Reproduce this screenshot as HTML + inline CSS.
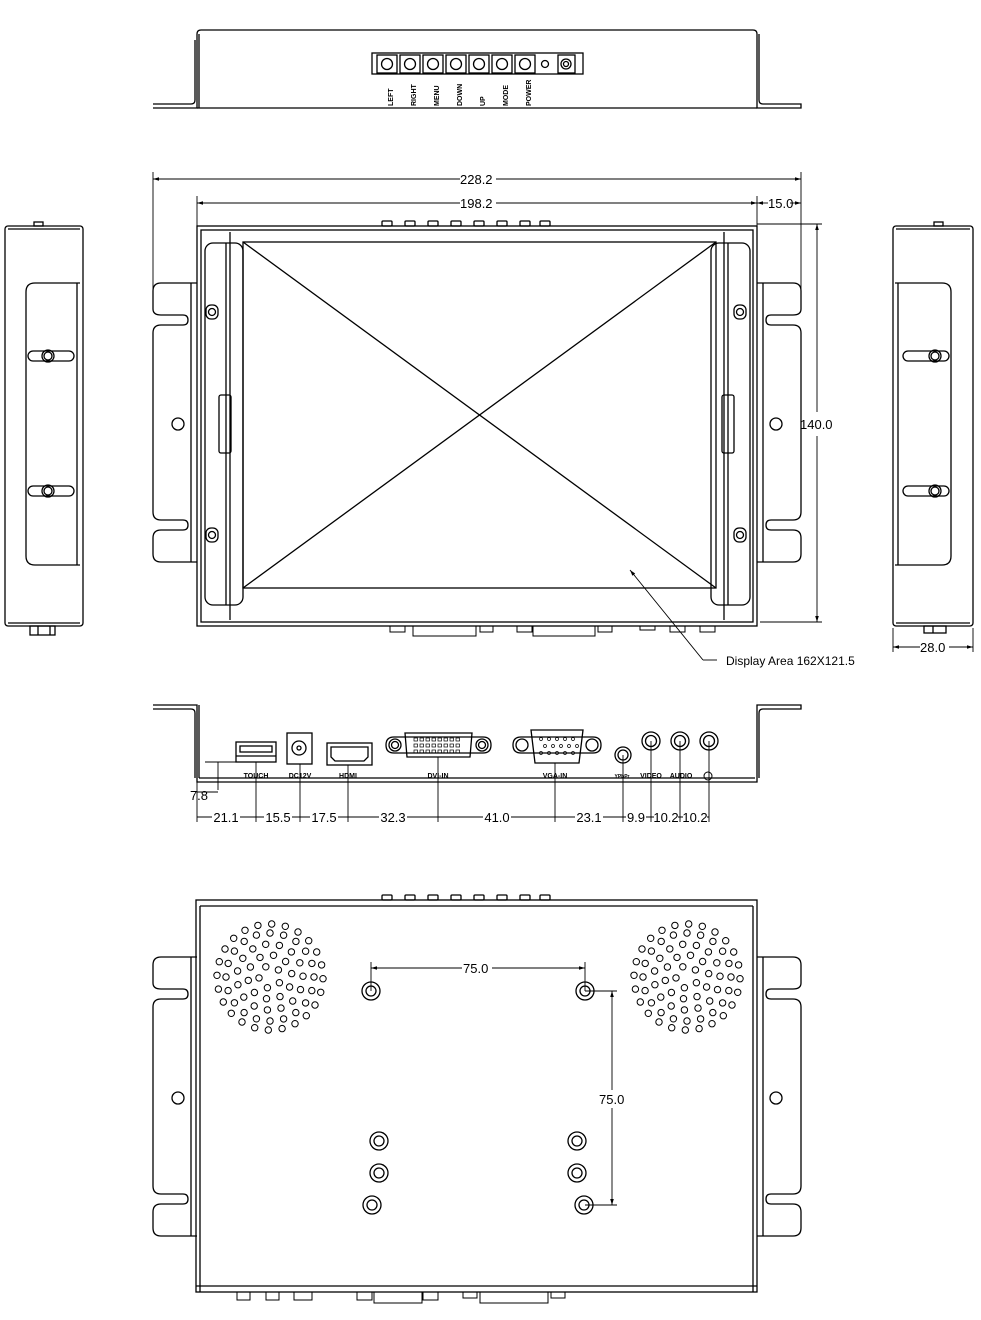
<!DOCTYPE html>
<html><head><meta charset="utf-8"><style>
html,body{margin:0;padding:0;background:#fff;}
svg{display:block;}
text{font-family:"Liberation Sans",sans-serif;fill:#000;}
.d{font-size:13px;}
.s{font-size:7px;font-weight:bold;}
</style></head><body>
<svg id="sv" width="981" height="1320" viewBox="0 0 981 1320" xmlns="http://www.w3.org/2000/svg" fill="none" stroke="#000" stroke-width="1.3">
<defs>
<marker id="a" viewBox="0 0 10 10" refX="10" refY="5" markerUnits="userSpaceOnUse" markerWidth="11" markerHeight="6" orient="auto-start-reverse"><path d="M0,2L10,5L0,8z" fill="#000" stroke="none"/></marker>
</defs>

<!-- TOP VIEW -->
<path d="M153,108H197V34Q197,30 201,30H753Q757,30 757,34V108H801V104H763Q759,104 759,100V34"/>
<path d="M153,104H191Q195,104 195,100V40M199,108V34"/>
<line x1="197" y1="108" x2="757" y2="108"/>
<rect x="372" y="53" width="211" height="21"/>
<g id="btns"></g>
<circle cx="545" cy="64" r="3.5"/>
<rect x="558" y="55" width="17" height="18"/>
<circle cx="566" cy="64" r="5"/><circle cx="566" cy="64" r="2.5"/>
<g stroke="none" class="s">
<text transform="translate(393,106) rotate(-90)">LEFT</text>
<text transform="translate(416,106) rotate(-90)">RIGHT</text>
<text transform="translate(439,106) rotate(-90)">MENU</text>
<text transform="translate(462,106) rotate(-90)">DOWN</text>
<text transform="translate(485,106) rotate(-90)">UP</text>
<text transform="translate(508,106) rotate(-90)">MODE</text>
<text transform="translate(531,106) rotate(-90)">POWER</text>
</g>

<!-- FRONT VIEW DIMENSIONS -->
<line x1="153" y1="172" x2="153" y2="290" stroke-width="0.9"/>
<line x1="801" y1="172" x2="801" y2="290" stroke-width="0.9"/>
<line x1="197" y1="196" x2="197" y2="230" stroke-width="0.9"/>
<line x1="757" y1="196" x2="757" y2="230" stroke-width="0.9"/>
<line x1="153" y1="179" x2="460" y2="179" marker-start="url(#a)" stroke-width="0.9"/>
<line x1="496" y1="179" x2="801" y2="179" marker-end="url(#a)" stroke-width="0.9"/>
<text x="460" y="184" class="d" stroke="none">228.2</text>
<line x1="197" y1="203" x2="460" y2="203" marker-start="url(#a)" stroke-width="0.9"/>
<line x1="496" y1="203" x2="757" y2="203" marker-end="url(#a)" stroke-width="0.9"/>
<text x="460" y="208" class="d" stroke="none">198.2</text>
<line x1="757" y1="203" x2="768" y2="203" marker-start="url(#a)" stroke-width="0.9"/>
<line x1="790" y1="203" x2="801" y2="203" marker-end="url(#a)" stroke-width="0.9"/>
<text x="768" y="208" class="d" stroke="none">15.0</text>
<line x1="757" y1="224" x2="822" y2="224" stroke-width="0.9"/>
<line x1="760" y1="622" x2="822" y2="622" stroke-width="0.9"/>
<line x1="817" y1="224" x2="817" y2="412" marker-start="url(#a)" stroke-width="0.9"/>
<line x1="817" y1="436" x2="817" y2="622" marker-end="url(#a)" stroke-width="0.9"/>
<text x="800" y="429" class="d" stroke="none">140.0</text>

<!-- FRONT VIEW -->
<g id="frontbtn"></g>
<rect x="197" y="226" width="560" height="400"/>
<rect x="201" y="230" width="552" height="392"/>
<rect x="243" y="242" width="473" height="346"/>
<line x1="243" y1="242" x2="716" y2="588"/><line x1="716" y1="242" x2="243" y2="588"/>
<rect x="205" y="243" width="38" height="362" rx="8"/>
<rect x="711" y="243" width="39" height="362" rx="8"/>
<line x1="226" y1="243" x2="226" y2="605"/><line x1="230" y1="232" x2="230" y2="620"/>
<line x1="728" y1="243" x2="728" y2="605"/><line x1="724" y1="232" x2="724" y2="620"/>
<rect x="219" y="395" width="12" height="58" rx="2"/>
<rect x="722" y="395" width="12" height="58" rx="2"/>
<g id="fscrews"></g>
<g id="brk"></g>
<g stroke-width="1">
<rect x="390" y="626" width="15" height="6"/><rect x="413" y="626" width="63" height="10"/><rect x="480" y="626" width="13" height="6"/>
<rect x="517" y="626" width="15" height="6"/><rect x="533" y="626" width="62" height="10"/><rect x="598" y="626" width="14" height="6"/>
<rect x="640" y="626" width="15" height="4"/><rect x="670" y="626" width="15" height="6"/><rect x="700" y="626" width="15" height="6"/>
</g>
<line x1="630" y1="570" x2="703" y2="660" marker-start="url(#a)" stroke-width="0.9"/>
<line x1="703" y1="660" x2="717" y2="660" stroke-width="0.9"/>
<text x="726" y="665" stroke="none" font-size="12">Display Area 162X121.5</text>

<!-- LEFT SIDE VIEW -->
<rect x="5" y="226" width="78" height="400" rx="3"/>
<line x1="8" y1="229" x2="80" y2="229"/><line x1="8" y1="623" x2="80" y2="623"/>
<path d="M80,283H35Q26,283 26,292V556Q26,565 35,565H80"/>
<line x1="77" y1="283" x2="77" y2="565"/>
<rect x="28" y="351" width="46" height="10" rx="5"/><circle cx="48" cy="356" r="4"/><circle cx="48" cy="356" r="6"/>
<rect x="28" y="486" width="46" height="10" rx="5"/><circle cx="48" cy="491" r="4"/><circle cx="48" cy="491" r="6"/>
<rect x="34" y="222" width="9" height="4"/>
<rect x="30" y="626" width="25" height="9"/><line x1="38" y1="626" x2="38" y2="635"/><line x1="50" y1="626" x2="50" y2="635"/>

<!-- RIGHT SIDE VIEW -->
<rect x="893" y="226" width="80" height="400" rx="3"/>
<line x1="896" y1="229" x2="970" y2="229"/><line x1="896" y1="623" x2="970" y2="623"/>
<path d="M895,283H942Q951,283 951,292V556Q951,565 942,565H895"/>
<line x1="898" y1="283" x2="898" y2="565"/>
<rect x="903" y="351" width="46" height="10" rx="5"/><circle cx="935" cy="356" r="4"/><circle cx="935" cy="356" r="6"/>
<rect x="903" y="486" width="46" height="10" rx="5"/><circle cx="935" cy="491" r="4"/><circle cx="935" cy="491" r="6"/>
<rect x="934" y="222" width="9" height="4"/>
<rect x="924" y="626" width="22" height="7"/><line x1="933" y1="626" x2="933" y2="633"/>
<line x1="893" y1="628" x2="893" y2="652" stroke-width="0.9"/><line x1="973" y1="628" x2="973" y2="652" stroke-width="0.9"/>
<line x1="893" y1="647" x2="920" y2="647" marker-start="url(#a)" stroke-width="0.9"/>
<line x1="949" y1="647" x2="973" y2="647" marker-end="url(#a)" stroke-width="0.9"/>
<text x="920" y="652" class="d" stroke="none">28.0</text>

<!-- BACK (IO) VIEW -->
<path d="M153,709H191Q195,709 195,713V778M153,705H197V782H757V705H801V709H763Q759,709 759,713V778"/>
<line x1="199" y1="705" x2="199" y2="778"/><line x1="199" y1="778" x2="755" y2="778"/>
<rect x="236" y="742" width="40" height="20"/><rect x="240" y="746" width="32" height="6"/><line x1="236" y1="756" x2="276" y2="756"/>
<rect x="287" y="733" width="25" height="31"/><circle cx="299" cy="748" r="7"/><circle cx="299" cy="748" r="2"/>
<rect x="327" y="743" width="45" height="22"/><path d="M331,747H368V757L364,761H335L331,757Z"/>
<path d="M386,745Q386,737 394,737H483Q491,737 491,745Q491,753 483,753H394Q386,753 386,745Z"/>
<circle cx="395" cy="745" r="6"/><circle cx="395" cy="745" r="3.5"/><circle cx="482" cy="745" r="6"/><circle cx="482" cy="745" r="3.5"/>
<path d="M405,733H472L470,757H407Z"/>
<g id="dvipins"></g>
<path d="M513,745Q513,737 521,737H593Q601,737 601,745Q601,753 593,753H521Q513,753 513,745Z"/>
<circle cx="522" cy="745" r="6"/><circle cx="592" cy="745" r="6"/>
<path d="M531,730H583L579,763H535Z"/>
<g id="vgapins"></g>
<circle cx="623" cy="755" r="8"/><circle cx="623" cy="755" r="5"/>
<circle cx="651" cy="741" r="9"/><circle cx="651" cy="741" r="5.5"/>
<circle cx="680" cy="741" r="9"/><circle cx="680" cy="741" r="5.5"/>
<circle cx="709" cy="741" r="9"/><circle cx="709" cy="741" r="5.5"/>
<circle cx="708" cy="776" r="4" stroke-width="1"/>
<g stroke="none" class="s" text-anchor="middle">
<text x="256" y="778">TOUCH</text><text x="300" y="778">DC12V</text><text x="348" y="778">HDMI</text>
<text x="438" y="778">DVI-IN</text><text x="555" y="778">VGA-IN</text><text x="622" y="778" font-size="5">YPbPr</text>
<text x="651" y="778">VIDEO</text><text x="681" y="778">AUDIO</text>
</g>
<g stroke-width="0.9">
<line x1="205" y1="762" x2="236" y2="762"/><line x1="218" y1="762" x2="218" y2="790"/>
<line x1="197" y1="792" x2="218" y2="792"/>
<line x1="197" y1="782" x2="197" y2="822"/>
<line x1="256" y1="762" x2="256" y2="822"/><line x1="300" y1="764" x2="300" y2="822"/><line x1="348" y1="765" x2="348" y2="822"/>
<line x1="438" y1="757" x2="438" y2="822"/><line x1="555" y1="763" x2="555" y2="822"/><line x1="623" y1="755" x2="623" y2="822"/>
<line x1="651" y1="741" x2="651" y2="822"/><line x1="680" y1="741" x2="680" y2="822"/><line x1="709" y1="741" x2="709" y2="822"/>
<line x1="197" y1="817" x2="709" y2="817"/>
</g>
<g stroke="none" class="d" text-anchor="middle">
<rect x="212" y="809" width="28" height="14" fill="#fff"/><text x="226" y="822">21.1</text>
<rect x="264" y="809" width="28" height="14" fill="#fff"/><text x="278" y="822">15.5</text>
<rect x="310" y="809" width="28" height="14" fill="#fff"/><text x="324" y="822">17.5</text>
<rect x="379" y="809" width="28" height="14" fill="#fff"/><text x="393" y="822">32.3</text>
<rect x="483" y="809" width="28" height="14" fill="#fff"/><text x="497" y="822">41.0</text>
<rect x="575" y="809" width="28" height="14" fill="#fff"/><text x="589" y="822">23.1</text>
<rect x="626" y="809" width="20" height="14" fill="#fff"/><text x="636" y="822">9.9</text>
<rect x="654" y="809" width="24" height="14" fill="#fff"/><text x="666" y="822">10.2</text>
<rect x="683" y="809" width="24" height="14" fill="#fff"/><text x="695" y="822">10.2</text>
<text x="199" y="800">7.8</text>
</g>

<!-- REAR VIEW -->
<g id="rearbtn"></g>
<rect x="196" y="900" width="561" height="392"/>
<line x1="200" y1="906" x2="753" y2="906"/>
<line x1="200" y1="906" x2="200" y2="1292"/><line x1="753" y1="906" x2="753" y2="1292"/>
<line x1="196" y1="1286" x2="757" y2="1286"/>
<g id="brk2"></g>
<g id="spk"></g>
<g id="mh"></g>
<g stroke-width="1">
<rect x="357" y="1292" width="15" height="8"/><rect x="374" y="1292" width="48" height="11"/><rect x="423" y="1292" width="15" height="8"/>
<rect x="463" y="1292" width="14" height="6"/><rect x="480" y="1292" width="68" height="11"/><rect x="551" y="1292" width="14" height="6"/>
<rect x="237" y="1292" width="13" height="8"/><rect x="266" y="1292" width="13" height="8"/><rect x="294" y="1292" width="18" height="8"/>
</g>
<g stroke-width="0.9">
<line x1="371" y1="962" x2="371" y2="991"/><line x1="585" y1="962" x2="585" y2="991"/>
<line x1="371" y1="968" x2="462" y2="968" marker-start="url(#a)"/>
<line x1="492" y1="968" x2="585" y2="968" marker-end="url(#a)"/>
<line x1="585" y1="991" x2="617" y2="991"/><line x1="585" y1="1205" x2="617" y2="1205"/>
<line x1="612" y1="991" x2="612" y2="1090" marker-start="url(#a)"/>
<line x1="612" y1="1108" x2="612" y2="1205" marker-end="url(#a)"/>
</g>
<text x="463" y="973" class="d" stroke="none">75.0</text>
<text x="599" y="1104" class="d" stroke="none">75.0</text>
</svg>
<script>
var NS="http://www.w3.org/2000/svg";
function el(p,t,a){var e=document.createElementNS(NS,t);for(var k in a)e.setAttribute(k,a[k]);document.getElementById(p).appendChild(e);return e;}
for(var i=0;i<7;i++){var cx=387+i*23;el("btns","rect",{x:cx-10,y:55,width:20,height:18});el("btns","circle",{cx:cx,cy:64,r:5.5});
el("frontbtn","rect",{x:cx-5,y:221,width:10,height:5,rx:1});el("rearbtn","rect",{x:cx-5,y:895,width:10,height:5,rx:1});}
el("frontbtn","rect",{x:540,y:221,width:10,height:5,rx:1});el("rearbtn","rect",{x:540,y:895,width:10,height:5,rx:1});
[[212,312],[212,535],[740,312],[740,535]].forEach(function(p){el("fscrews","rect",{x:p[0]-6,y:p[1]-7,width:12,height:14,rx:5});el("fscrews","circle",{cx:p[0],cy:p[1],r:3.5});});
function bracket(g,oy){
 var L="M197,"+(oy)+"H161Q153,"+oy+" 153,"+(oy+8)+"V"+(oy+26)+"Q153,"+(oy+32)+" 161,"+(oy+32)+"H183Q188,"+(oy+32)+" 188,"+(oy+37)+"Q188,"+(oy+42)+" 183,"+(oy+42)+"H161Q153,"+(oy+42)+" 153,"+(oy+50)+"V"+(oy+229)+"Q153,"+(oy+237)+" 161,"+(oy+237)+"H183Q188,"+(oy+237)+" 188,"+(oy+242)+"Q188,"+(oy+247)+" 183,"+(oy+247)+"H161Q153,"+(oy+247)+" 153,"+(oy+255)+"V"+(oy+271)+"Q153,"+(oy+279)+" 161,"+(oy+279)+"H197";
 el(g,"path",{d:L});
 el(g,"path",{d:L,transform:"translate(954,0) scale(-1,1)"});
 el(g,"line",{x1:191,y1:oy,x2:191,y2:oy+279});el(g,"line",{x1:763,y1:oy,x2:763,y2:oy+279});
 el(g,"circle",{cx:178,cy:oy+141,r:6});el(g,"circle",{cx:776,cy:oy+141,r:6});
}
bracket("brk",283);bracket("brk2",957);
for(var r=0;r<3;r++)for(var c=0;c<8;c++){el("dvipins","rect",{x:414+c*6,y:738+r*6,width:3.5,height:3,"stroke-width":0.7});}
for(var r=0;r<3;r++)for(var c=0;c<5;c++){el("vgapins","circle",{cx:541+c*8+(r==1?4:0),cy:739+r*7,r:1.5,"stroke-width":0.7});}
function spk(cx,cy){
 var rings=[[11,5],[22,10],[33,15],[44,20],[53,24]];
 rings.forEach(function(rg){for(var k=0;k<rg[1];k++){var a=k*2*Math.PI/rg[1]+rg[0]*0.05;el("spk","circle",{cx:(cx+rg[0]*Math.cos(a)).toFixed(1),cy:(cy+rg[0]*Math.sin(a)).toFixed(1),r:3.2,"stroke-width":1});}});
}
spk(270,977);spk(687,977);
[[371,991],[585,991],[379,1141],[379,1173],[372,1205],[577,1141],[577,1173],[584,1205]].forEach(function(p){el("mh","circle",{cx:p[0],cy:p[1],r:9});el("mh","circle",{cx:p[0],cy:p[1],r:5});});
</script>
</body></html>
